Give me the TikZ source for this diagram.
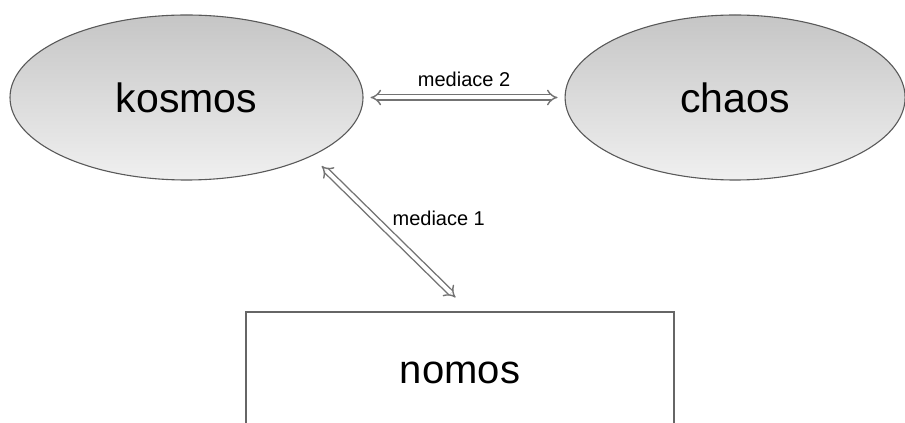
\documentclass[tikz,border=0pt]{standalone}
\usepackage{fontspec}
\setmainfont{Liberation Sans}
\usetikzlibrary{positioning, shapes, arrows.meta}

\tikzset{
  world/.style={draw=black!65, line width=1.1pt, ellipse, inner sep=0pt,
    minimum width=353pt, minimum height=165pt,
    top color=gray!45, bottom color=gray!12,
    font=\fontsize{41}{41}\selectfont},
  lawbox/.style={draw=black!60, line width=1.1pt, rectangle, fill=white,
    minimum width=428pt, minimum height=122pt,
    font=\fontsize{40}{40}\selectfont},
  mediation/.style={double, double distance=4pt, line width=1.4pt,
    draw=black!55, {Implies}-{Implies}},
  medlabel/.style={font=\fontsize{20}{20}\selectfont, inner sep=2pt}
}

\begin{document}
\begin{tikzpicture}[x=1pt, y=1pt, node distance=201pt]
\clip (0,0) rectangle (905,423);
\node[world] (kosmos) at (186.5,325.5) {kosmos};
\node[world, minimum width=340pt, right=of kosmos] (chaos) {chaos};
\node[lawbox] (nomos) at (460,50) {nomos};
\draw[mediation, shorten <=7pt, shorten >=7pt] (kosmos.east) --
  node[medlabel, above=8pt] (m2) {mediace 2} (chaos.west);
\draw[mediation, shorten <=14pt, shorten >=20pt] (kosmos.south east) --
  node[medlabel, pos=0.4, right=15pt] (m1) {mediace 1} (nomos.81);
\end{tikzpicture}
\end{document}
